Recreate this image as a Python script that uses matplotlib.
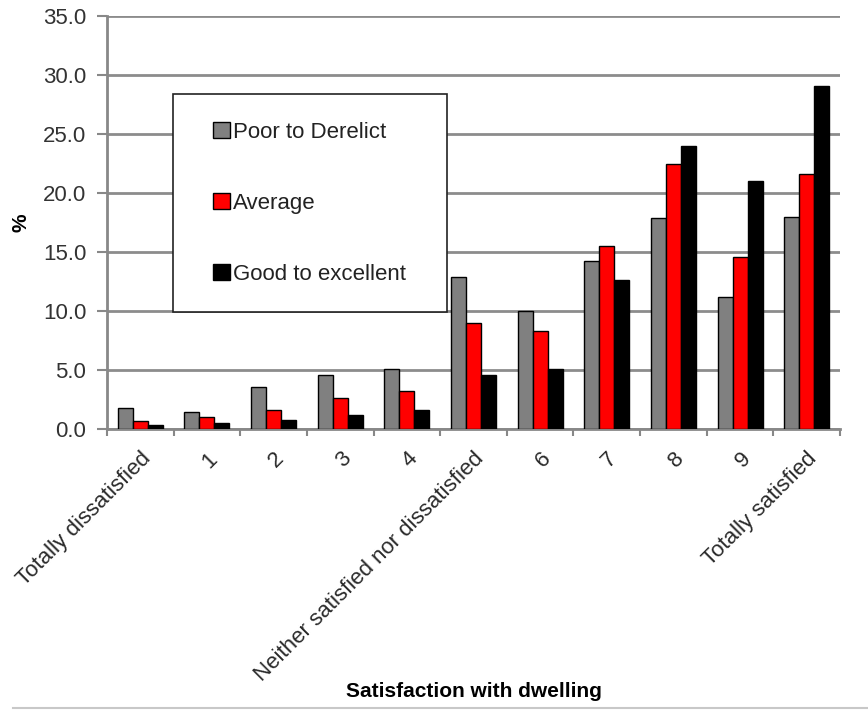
import numpy as np
import matplotlib.pyplot as plt
from matplotlib.patches import Rectangle
from matplotlib.lines import Line2D

plt.rcParams['font.family'] = ['Liberation Sans', 'DejaVu Sans']

categories = ['Totally dissatisfied', '1', '2', '3', '4',
              'Neither satisfied nor dissatisfied', '6', '7', '8', '9',
              'Totally satisfied']
poor = [1.8, 1.4, 3.6, 4.6, 5.1, 12.9, 10.0, 14.2, 17.9, 11.2, 18.0]
average = [0.7, 1.0, 1.6, 2.6, 3.2, 9.0, 8.3, 15.5, 22.5, 14.6, 21.6]
good = [0.3, 0.5, 0.8, 1.2, 1.6, 4.6, 5.1, 12.6, 24.0, 21.0, 29.1]

series = [('Poor to Derelict', poor, '#808080'),
          ('Average', average, '#ff0000'),
          ('Good to excellent', good, '#000000')]

fig = plt.figure(figsize=(8.68, 7.12), dpi=100)
ax = fig.add_axes([0.1233, 0.3975, 0.8444, 0.58])

x = np.arange(len(categories))
w = 0.225
for i, (name, vals, col) in enumerate(series):
    ax.bar(x + (i - 1) * w, vals, w, color=col, edgecolor='black',
           linewidth=1, label=name, zorder=3)

ax.set_xlim(-0.5, len(categories) - 0.5)
ax.set_ylim(0, 35)
ax.set_yticks(np.arange(0, 35.1, 5))
ax.set_yticklabels([f'{v:.1f}' for v in np.arange(0, 35.1, 5)])
ax.yaxis.grid(True, color='#8c8c8c', linewidth=2, zorder=0)
ax.set_axisbelow(True)

# category labels centred on the groups, ticks on the group boundaries
ax.set_xticks(x)
ax.set_xticklabels(categories, rotation=45, ha='right', rotation_mode='anchor')
ax.tick_params(axis='x', length=0, labelsize=16, colors='#2a2a2a', pad=14)
ax.set_xticks(np.arange(-0.5, len(categories), 1), minor=True)
ax.tick_params(axis='x', which='minor', length=5, width=1.5, color='#888888')
ax.tick_params(axis='y', length=7, width=1.5, color='#888888',
               labelsize=16, labelcolor='#333333', pad=8)

for s in ['top', 'right']:
    ax.spines[s].set_visible(False)
ax.spines['left'].set_color('#888888')
ax.spines['left'].set_linewidth(2)
ax.spines['bottom'].set_color('#888888')
ax.spines['bottom'].set_linewidth(2)

ax.set_ylabel('%', fontsize=15, fontweight='bold', labelpad=9)
ax.set_xlabel('Satisfaction with dwelling', fontsize=15, fontweight='bold')
ax.xaxis.set_label_coords(0.5, -0.612)

# legend box
box = Rectangle((0.09, 0.283), 0.374, 0.528, transform=ax.transAxes,
                facecolor='white', edgecolor='#222222', linewidth=1.2,
                zorder=4)
ax.add_patch(box)
leg = ax.legend(loc='center left', bbox_to_anchor=(0.133, 0.547),
                frameon=False, fontsize=16, labelspacing=2.25,
                handlelength=0.75, handleheight=0.75, handletextpad=0.15,
                borderaxespad=0)
leg.set_zorder(5)
for t in leg.get_texts():
    t.set_color('#222222')

fig.add_artist(Line2D([0.015, 1.0], [0.006, 0.006], color='#c8c8c8',
                      linewidth=1.5))

fig.savefig('out.png', dpi=100)
